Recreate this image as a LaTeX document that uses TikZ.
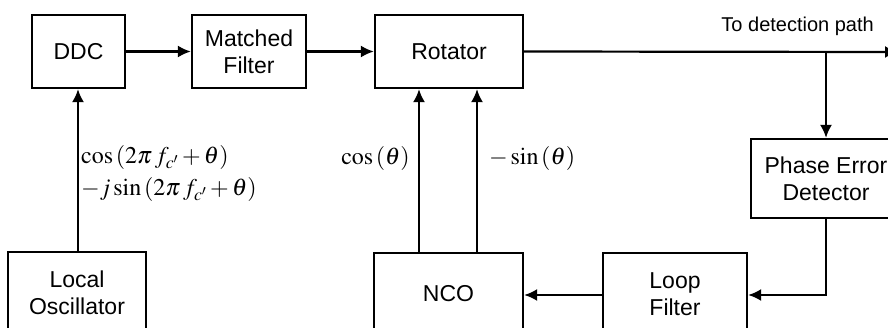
\documentclass[tikz,border=0pt]{standalone}
\usepackage{mathptmx}
\usepackage{fontspec}
\setmainfont{Liberation Sans}
\usetikzlibrary{arrows.meta}
\begin{document}
\begin{tikzpicture}[x=1pt,y=-1pt,
  blk/.style={draw,line width=2.2pt,inner sep=0pt,align=center,
    font=\fontsize{23}{27}\selectfont},
  conn/.style={line width=2.2pt,-{Latex[length=13pt,width=12pt]}},
  lbl/.style={inner sep=0pt,font=\fontsize{20}{24}\selectfont},
  mlbl/.style={inner sep=0pt,font=\fontsize{24}{28}\selectfont}]
\useasboundingbox (0,0) rectangle (888,328);
\clip (0,0) rectangle (888,328);
\node[blk,minimum width=93pt,minimum height=73pt] (ddc) at (78.5,51.5) {DDC};
\node[blk,minimum width=114pt,minimum height=73pt] (mf) at (249,51.5) {Matched\\Filter};
\node[blk,minimum width=148pt,minimum height=73pt] (rot) at (449,51.5) {Rotator};
\node[blk,minimum width=150pt,minimum height=79pt] (ped) at (826,178.5) {Phase Error\\Detector};
\node[blk,minimum width=144pt,minimum height=82pt] (lf) at (675,294) {Loop\\Filter};
\node[blk,minimum width=149pt,minimum height=82pt] (nco) at (448.5,294) {NCO};
\node[blk,minimum width=138pt,minimum height=82pt] (lo) at (77,293) {Local\\Oscillator};
\coordinate (br) at (826,52);
\coordinate (out) at (898,52);
\node[lbl,anchor=south east] (tdp) at (874,36) {To detection path};
\draw[conn] (ddc) -- (mf);
\draw[conn] (mf) -- (rot);
\draw[conn] (rot.east) -- (out);
\draw[conn] (br) -- (ped.north);
\draw[conn] (ped.south) |- (lf.east |- 0,295);
\draw[conn] (lf.west |- 0,295) -- (nco.east |- 0,295);
\draw[conn] (lo.north -| 78,0) -- (ddc.south -| 78,0);
\draw[conn] (nco.north -| 419,0) -- (rot.south -| 419,0);
\draw[conn] (nco.north -| 477,0) -- (rot.south -| 477,0);
\node[mlbl,anchor=west] (m1) at (81,158) {$\cos\left(2\pi\, f_{c'}+\theta\right)$};
\node[mlbl,anchor=west] (m2) at (81,190) {$-j\sin\left(2\pi\, f_{c'}+\theta\right)$};
\node[mlbl,anchor=east] (m3) at (410,159) {$\cos\left(\theta\right)$};
\node[mlbl,anchor=west] (m4) at (489,159) {$-\sin\left(\theta\right)$};
\end{tikzpicture}
\end{document}
